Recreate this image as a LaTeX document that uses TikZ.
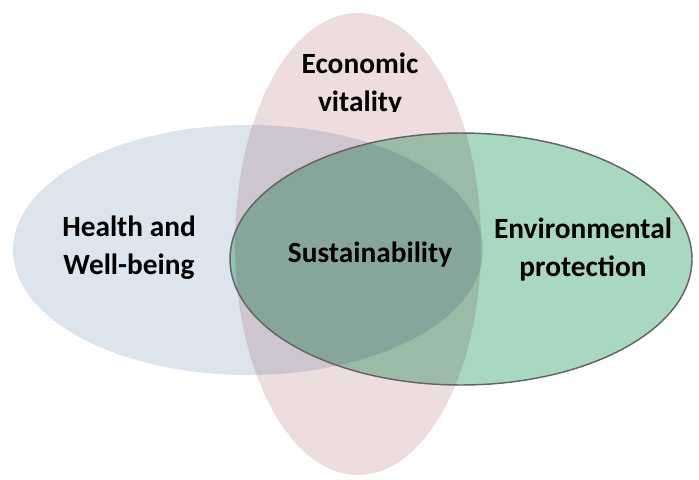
\documentclass[tikz,border=0pt]{standalone}
\usepackage{fontspec}
\setmainfont{Carlito}
\definecolor{healthblue}{RGB}{220,228,238}
\definecolor{econpink}{RGB}{238,221,222}
\definecolor{envgreen}{RGB}{168,216,192}
\definecolor{rimgray}{RGB}{100,100,100}
\tikzset{
    setfill/.style={blend mode=multiply},
    setrim/.style={draw=rimgray, line width=1.1pt},
    setlabel/.style={font=\bfseries\fontsize{22}{28.5}\selectfont, align=center, text=black, inner sep=0pt},
}
\begin{document}
\begin{tikzpicture}[x=0.75pt, y=-0.75pt]
	\useasboundingbox (0,0) rectangle (699,479);
	\fill[healthblue] (248,250) ellipse [x radius=235, y radius=125];
	\fill[econpink, setfill] (358,244) ellipse [x radius=123, y radius=231];
	\fill[envgreen, setfill] (461,259) ellipse [x radius=231, y radius=126];
	\draw[setrim] (461,259) ellipse [x radius=231, y radius=126];
	\node[setlabel] (health) at (129,248) {Health and\\Well-being};
	\node[setlabel] (env) at (583,250) {Environmental\\protection};
	\node[setlabel, anchor=base] (sust) at (370,262) {Sustainability};
	\begin{scope}
		\clip (0,0) rectangle (699,111);
		\node[setlabel] (econ) at (360,85) {Economic\\vitality};
	\end{scope}
\end{tikzpicture}
\end{document}
